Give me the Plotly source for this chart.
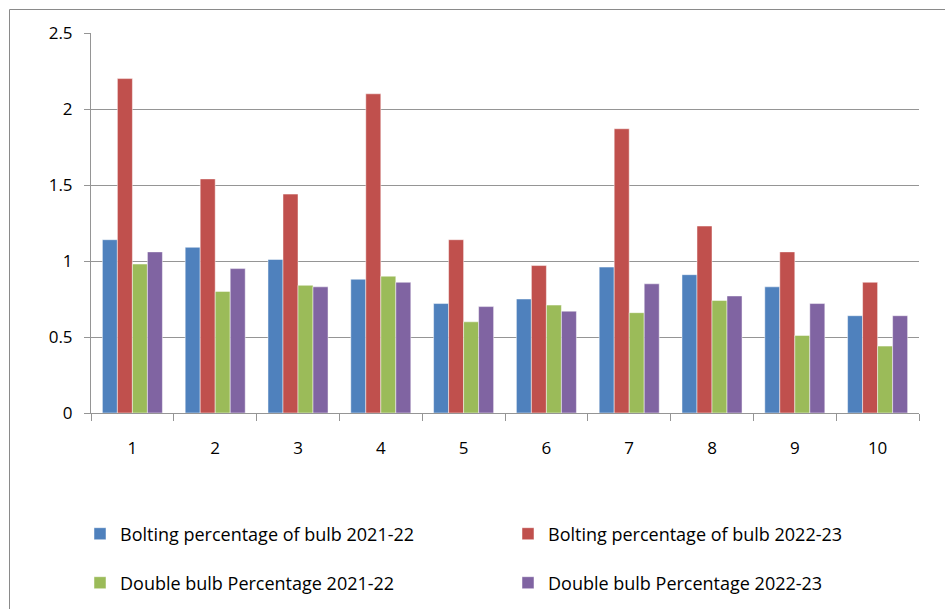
import plotly.graph_objects as go

categories = ["1", "2", "3", "4", "5", "6", "7", "8", "9", "10"]
bolting_2021 = [1.14, 1.09, 1.01, 0.88, 0.72, 0.75, 0.96, 0.91, 0.83, 0.64]
bolting_2022 = [2.20, 1.54, 1.44, 2.10, 1.14, 0.97, 1.87, 1.23, 1.06, 0.86]
double_2021 = [0.98, 0.80, 0.84, 0.90, 0.60, 0.71, 0.66, 0.74, 0.51, 0.44]
double_2022 = [1.06, 0.95, 0.83, 0.86, 0.70, 0.67, 0.85, 0.77, 0.72, 0.64]

series = [
    ("Bolting percentage of bulb 2021-22", bolting_2021, "#4F81BD", "legend"),
    ("Bolting percentage of bulb 2022-23", bolting_2022, "#C0504D", "legend"),
    ("Double bulb Percentage 2021-22", double_2021, "#9BBB59", "legend2"),
    ("Double bulb Percentage 2022-23", double_2022, "#8064A2", "legend2"),
]

FONT = "Open Sans"
FS = 17
LFS = 18
fig = go.Figure()
for name, vals, color, lg in series:
    fig.add_trace(go.Bar(
        x=categories, y=vals, name=name, legend=lg,
        marker=dict(color=color, line=dict(color="rgba(255,255,255,0.6)", width=0.8)),
    ))

W, H = 945, 609
L, R, T, B = 91, 26, 33, 196
pw, ph = W - L - R, H - T - B

def px_x(p):
    return (p - L) / pw

def px_y(p):
    return (H - B - p) / ph

grid = "#959595"
fig.update_layout(
    width=W, height=H,
    margin=dict(l=L, r=R, t=T, b=B, autoexpand=False),
    paper_bgcolor="white", plot_bgcolor="white",
    barmode="group", bargap=0.275, bargroupgap=0,
    font=dict(family=FONT, size=FS, color="black"),
    xaxis=dict(
        type="category", tickson="boundaries", ticks="outside", ticklen=7,
        tickcolor=grid, showline=True, linecolor=grid, linewidth=1,
        showgrid=False, tickfont=dict(size=FS, family=FONT, color="black"),
        ticklabelstandoff=20, automargin=False,
    ),
    yaxis=dict(
        range=[0, 2.5], dtick=0.5, showgrid=True, gridcolor=grid, gridwidth=1,
        showline=True, linecolor=grid, linewidth=1, ticks="outside", ticklen=6,
        tickcolor=grid, zeroline=False, tickfont=dict(size=FS, family=FONT, color="black"),
        ticklabelstandoff=8, automargin=False,
    ),
    legend=dict(
        orientation="h", x=px_x(80), xanchor="left", y=px_y(534), yanchor="middle",
        entrywidth=383, entrywidthmode="pixels", font=dict(size=LFS, family=FONT),
        bgcolor="rgba(0,0,0,0)",
    ),
    legend2=dict(
        orientation="h", x=px_x(80), xanchor="left", y=px_y(583), yanchor="middle",
        entrywidth=383, entrywidthmode="pixels", font=dict(size=LFS, family=FONT),
        bgcolor="rgba(0,0,0,0)",
    ),
    shapes=[dict(
        type="rect", xref="paper", yref="paper",
        x0=px_x(9.5), x1=px_x(960), y0=px_y(640), y1=px_y(9.5),
        line=dict(color="#8a8a8a", width=1), fillcolor="rgba(0,0,0,0)", layer="below",
    )],
)

fig.write_html(
    "out.html",
    config={"displayModeBar": False},
    post_script="document.body.style.margin='0';document.body.style.overflow='hidden';",
)
